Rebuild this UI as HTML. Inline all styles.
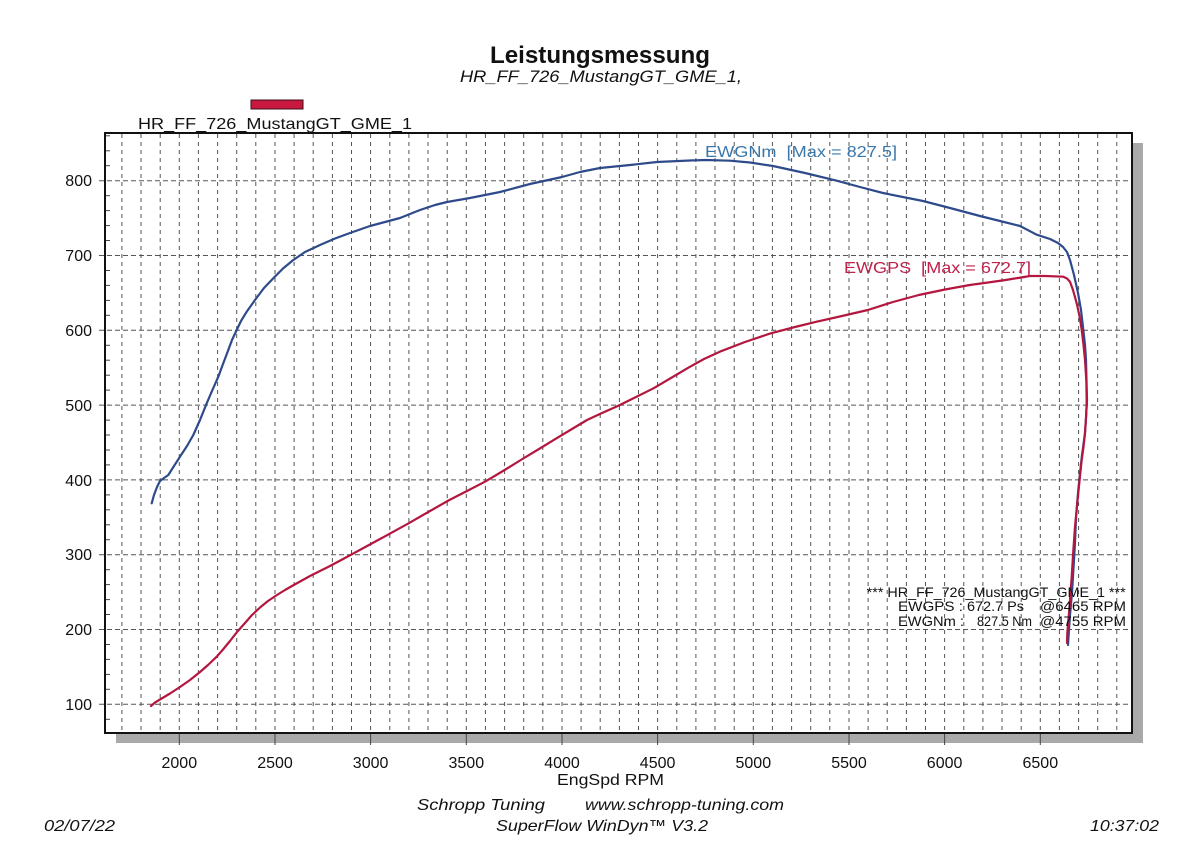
<!DOCTYPE html>
<html>
<head>
<meta charset="utf-8">
<style>
  html, body { margin: 0; padding: 0; background: #ffffff; }
  body { width: 1200px; height: 849px; overflow: hidden; }
  svg { display: block; }
  text { font-family: "Liberation Sans", Arial, sans-serif; fill: #111; white-space: pre; }
</style>
</head>
<body>
<svg width="1200" height="849" viewBox="0 0 1200 849" xmlns="http://www.w3.org/2000/svg">
  <rect x="0" y="0" width="1200" height="849" fill="#ffffff"/>

  <!-- Title -->
  <text x="600" y="63" font-size="24" font-weight="bold" text-anchor="middle" textLength="220" lengthAdjust="spacingAndGlyphs">Leistungsmessung</text>
  <text x="460" y="82" font-size="17" font-style="italic" textLength="282" lengthAdjust="spacingAndGlyphs">HR_FF_726_MustangGT_GME_1,</text>

  <!-- Legend swatch -->
  <rect x="251" y="100" width="52" height="9" fill="#c8183f" stroke="#3a1018" stroke-width="1"/>
  <text x="138" y="129" font-size="16" textLength="274" lengthAdjust="spacingAndGlyphs">HR_FF_726_MustangGT_GME_1</text>

  <!-- Shadow -->
  <rect x="1133" y="143" width="10" height="600" fill="#a9a9a9"/>
  <rect x="116" y="734" width="1027" height="9" fill="#a9a9a9"/>

  <!-- Plot background -->
  <rect x="105" y="133" width="1027" height="600" fill="#ffffff"/>

  <!-- Vertical grid (every 100 rpm) -->
  <g stroke="#555" stroke-width="1" stroke-dasharray="4,4">
    <line x1="121.9" y1="134" x2="121.9" y2="732"/>
    <line x1="141.0" y1="134" x2="141.0" y2="732"/>
    <line x1="160.2" y1="134" x2="160.2" y2="732"/>
    <line x1="179.3" y1="134" x2="179.3" y2="732"/>
    <line x1="198.4" y1="134" x2="198.4" y2="732"/>
    <line x1="217.6" y1="134" x2="217.6" y2="732"/>
    <line x1="236.7" y1="134" x2="236.7" y2="732"/>
    <line x1="255.8" y1="134" x2="255.8" y2="732"/>
    <line x1="275.0" y1="134" x2="275.0" y2="732"/>
    <line x1="294.1" y1="134" x2="294.1" y2="732"/>
    <line x1="313.2" y1="134" x2="313.2" y2="732"/>
    <line x1="332.4" y1="134" x2="332.4" y2="732"/>
    <line x1="351.5" y1="134" x2="351.5" y2="732"/>
    <line x1="370.6" y1="134" x2="370.6" y2="732"/>
    <line x1="389.8" y1="134" x2="389.8" y2="732"/>
    <line x1="408.9" y1="134" x2="408.9" y2="732"/>
    <line x1="428.0" y1="134" x2="428.0" y2="732"/>
    <line x1="447.2" y1="134" x2="447.2" y2="732"/>
    <line x1="466.3" y1="134" x2="466.3" y2="732"/>
    <line x1="485.4" y1="134" x2="485.4" y2="732"/>
    <line x1="504.6" y1="134" x2="504.6" y2="732"/>
    <line x1="523.7" y1="134" x2="523.7" y2="732"/>
    <line x1="542.8" y1="134" x2="542.8" y2="732"/>
    <line x1="562.0" y1="134" x2="562.0" y2="732"/>
    <line x1="581.1" y1="134" x2="581.1" y2="732"/>
    <line x1="600.2" y1="134" x2="600.2" y2="732"/>
    <line x1="619.4" y1="134" x2="619.4" y2="732"/>
    <line x1="638.5" y1="134" x2="638.5" y2="732"/>
    <line x1="657.6" y1="134" x2="657.6" y2="732"/>
    <line x1="676.8" y1="134" x2="676.8" y2="732"/>
    <line x1="695.9" y1="134" x2="695.9" y2="732"/>
    <line x1="715.0" y1="134" x2="715.0" y2="732"/>
    <line x1="734.2" y1="134" x2="734.2" y2="732"/>
    <line x1="753.3" y1="134" x2="753.3" y2="732"/>
    <line x1="772.4" y1="134" x2="772.4" y2="732"/>
    <line x1="791.6" y1="134" x2="791.6" y2="732"/>
    <line x1="810.7" y1="134" x2="810.7" y2="732"/>
    <line x1="829.8" y1="134" x2="829.8" y2="732"/>
    <line x1="849.0" y1="134" x2="849.0" y2="732"/>
    <line x1="868.1" y1="134" x2="868.1" y2="732"/>
    <line x1="887.2" y1="134" x2="887.2" y2="732"/>
    <line x1="906.4" y1="134" x2="906.4" y2="732"/>
    <line x1="925.5" y1="134" x2="925.5" y2="732"/>
    <line x1="944.6" y1="134" x2="944.6" y2="732"/>
    <line x1="963.8" y1="134" x2="963.8" y2="732"/>
    <line x1="982.9" y1="134" x2="982.9" y2="732"/>
    <line x1="1002.0" y1="134" x2="1002.0" y2="732"/>
    <line x1="1021.2" y1="134" x2="1021.2" y2="732"/>
    <line x1="1040.3" y1="134" x2="1040.3" y2="732"/>
    <line x1="1059.4" y1="134" x2="1059.4" y2="732"/>
    <line x1="1078.6" y1="134" x2="1078.6" y2="732"/>
    <line x1="1097.7" y1="134" x2="1097.7" y2="732"/>
    <line x1="1116.8" y1="134" x2="1116.8" y2="732"/>
  </g>

  <!-- Horizontal grid (every 100) -->
  <g stroke="#555" stroke-width="1" stroke-dasharray="5,3">
    <line x1="99" y1="704.3" x2="1131" y2="704.3"/>
    <line x1="99" y1="629.5" x2="1131" y2="629.5"/>
    <line x1="99" y1="554.7" x2="1131" y2="554.7"/>
    <line x1="99" y1="479.9" x2="1131" y2="479.9"/>
    <line x1="99" y1="405.1" x2="1131" y2="405.1"/>
    <line x1="99" y1="330.3" x2="1131" y2="330.3"/>
    <line x1="99" y1="255.5" x2="1131" y2="255.5"/>
    <line x1="99" y1="180.7" x2="1131" y2="180.7"/>
  </g>

  <!-- Minor left ticks (every 20) -->
  <g stroke="#444" stroke-width="1">
    <line x1="105" y1="719.3" x2="110" y2="719.3"/>
    <line x1="105" y1="689.3" x2="110" y2="689.3"/>
    <line x1="105" y1="674.4" x2="110" y2="674.4"/>
    <line x1="105" y1="659.4" x2="110" y2="659.4"/>
    <line x1="105" y1="644.5" x2="110" y2="644.5"/>
    <line x1="105" y1="614.5" x2="110" y2="614.5"/>
    <line x1="105" y1="599.6" x2="110" y2="599.6"/>
    <line x1="105" y1="584.6" x2="110" y2="584.6"/>
    <line x1="105" y1="569.7" x2="110" y2="569.7"/>
    <line x1="105" y1="539.7" x2="110" y2="539.7"/>
    <line x1="105" y1="524.8" x2="110" y2="524.8"/>
    <line x1="105" y1="509.8" x2="110" y2="509.8"/>
    <line x1="105" y1="494.9" x2="110" y2="494.9"/>
    <line x1="105" y1="464.9" x2="110" y2="464.9"/>
    <line x1="105" y1="450.0" x2="110" y2="450.0"/>
    <line x1="105" y1="435.0" x2="110" y2="435.0"/>
    <line x1="105" y1="420.1" x2="110" y2="420.1"/>
    <line x1="105" y1="390.1" x2="110" y2="390.1"/>
    <line x1="105" y1="375.2" x2="110" y2="375.2"/>
    <line x1="105" y1="360.2" x2="110" y2="360.2"/>
    <line x1="105" y1="345.3" x2="110" y2="345.3"/>
    <line x1="105" y1="315.3" x2="110" y2="315.3"/>
    <line x1="105" y1="300.4" x2="110" y2="300.4"/>
    <line x1="105" y1="285.4" x2="110" y2="285.4"/>
    <line x1="105" y1="270.5" x2="110" y2="270.5"/>
    <line x1="105" y1="240.5" x2="110" y2="240.5"/>
    <line x1="105" y1="225.6" x2="110" y2="225.6"/>
    <line x1="105" y1="210.6" x2="110" y2="210.6"/>
    <line x1="105" y1="195.7" x2="110" y2="195.7"/>
    <line x1="105" y1="165.7" x2="110" y2="165.7"/>
    <line x1="105" y1="150.8" x2="110" y2="150.8"/>
    <line x1="105" y1="135.8" x2="110" y2="135.8"/>
  </g>

  <!-- Bottom major ticks -->
  <g stroke="#444" stroke-width="1">
    <line x1="179.3" y1="733" x2="179.3" y2="745"/>
    <line x1="275.0" y1="733" x2="275.0" y2="745"/>
    <line x1="370.6" y1="733" x2="370.6" y2="745"/>
    <line x1="466.3" y1="733" x2="466.3" y2="745"/>
    <line x1="562.0" y1="733" x2="562.0" y2="745"/>
    <line x1="657.6" y1="733" x2="657.6" y2="745"/>
    <line x1="753.3" y1="733" x2="753.3" y2="745"/>
    <line x1="849.0" y1="733" x2="849.0" y2="745"/>
    <line x1="944.6" y1="733" x2="944.6" y2="745"/>
    <line x1="1040.3" y1="733" x2="1040.3" y2="745"/>
  </g>

  <!-- Frame -->
  <rect x="105" y="133" width="1027" height="600" fill="none" stroke="#111" stroke-width="2"/>

  <!-- Y labels -->
  <g font-size="16" text-anchor="end">
    <text x="92" y="710">100</text>
    <text x="92" y="635">200</text>
    <text x="92" y="560">300</text>
    <text x="92" y="486">400</text>
    <text x="92" y="411">500</text>
    <text x="92" y="336">600</text>
    <text x="92" y="261">700</text>
    <text x="92" y="186">800</text>
  </g>

  <!-- X labels -->
  <g font-size="16" text-anchor="middle">
    <text x="179.3" y="768">2000</text>
    <text x="275.0" y="768">2500</text>
    <text x="370.6" y="768">3000</text>
    <text x="466.3" y="768">3500</text>
    <text x="562.0" y="768">4000</text>
    <text x="657.6" y="768">4500</text>
    <text x="753.3" y="768">5000</text>
    <text x="849.0" y="768">5500</text>
    <text x="944.6" y="768">6000</text>
    <text x="1040.3" y="768">6500</text>
  </g>
  <text x="557" y="785" font-size="16" textLength="107" lengthAdjust="spacingAndGlyphs">EngSpd RPM</text>

  <!-- Torque curve (blue) -->
  <polyline fill="none" stroke="#2f4a8a" stroke-width="2.2" stroke-linejoin="round" stroke-linecap="round"
    points="151.7,503.3 154,495 157,487 160,481 164,478 168.3,475 174,466 180,456.7 187,446 193.3,435 200,420 206.7,403.3 212,391 218.3,376.7 223,364 228.3,350 232,340 236.7,330 241,321 246.7,311.7 255,300 264,288 273.3,278.3 283,268.5 293.3,260 305,252 320,245 335,238.5 350,233 370,226 385,222 400,218 420,210 435,205 447,202 470,198 500,192 530,184 562,177 580,172 600,168 630,165 657,162 690,160.5 706,160 730,160.7 750,162.5 773,166 805,173 836.7,180.7 860,187 883,193 923,201 950,208 980,216 1000,221 1020,226 1036.7,234.7 1050,239 1058,243 1063,247 1067,252 1070,260 1074,275 1078,293 1081,310 1083,327 1085,345 1086,360 1087,400 1086,418 1085,433 1082,455 1080,473 1078,493 1076,518 1075,543 1073.5,568 1072,593 1070,615 1068.5,637 1068,645"/>

  <!-- Power curve (red) -->
  <polyline fill="none" stroke="#b3173f" stroke-width="2.2" stroke-linejoin="round" stroke-linecap="round"
    points="151,706 155,702.5 160,699.5 170,693.5 180,687 190,680 200,672 208,665 216.7,656.7 223,649.5 230,641 237,632 245,623 252,615 260.6,607 268,601 277,595 285,590 293.8,585 310,576 330,566 352.4,554 380,539 408.6,523.3 430,511 449.4,500 467,491 485,481.7 503,471 520.8,460 539,449 556.5,438.3 572,429 587,420 602,413 617.8,406 635,397.5 653.5,388.3 671,378 689,367.3 704,359 719.8,351.7 745,342 770.8,333.3 795,327 816.7,321.7 842,316 867.8,310 893,302 918.8,295 945,289.5 969.8,285 988,282.5 1005.5,280 1018,278 1030,276 1045,276 1063.3,276.7 1067,278.5 1070,281.7 1073,290 1076.7,303.3 1079.5,316 1081.7,330 1083.5,345 1085,360 1086.3,380 1086.7,403.3 1086,418 1085,433 1083.5,447 1081.7,460 1080,476 1078.3,493 1076.6,510 1075,526.7 1073.3,551 1071.7,576.7 1070.5,593 1069.3,610 1068.2,622 1067.3,633.3 1067,643"/>

  <!-- Curve labels -->
  <text x="705" y="157" font-size="16" style="fill:#3a78ab" textLength="192" lengthAdjust="spacingAndGlyphs">EWGNm  [Max = 827.5]</text>
  <text x="844" y="273" font-size="16" style="fill:#c0204a" textLength="187" lengthAdjust="spacingAndGlyphs">EWGPS  [Max = 672.7]</text>

  <!-- Stats -->
  <g font-size="14">
    <text x="866.7" y="597" textLength="259" lengthAdjust="spacingAndGlyphs">*** HR_FF_726_MustangGT_GME_1 ***</text>
    <text x="898" y="611" textLength="65" lengthAdjust="spacingAndGlyphs">EWGPS :</text>
    <text x="967" y="611" textLength="57" lengthAdjust="spacingAndGlyphs">672.7 Ps</text>
    <text x="1040" y="611" textLength="86" lengthAdjust="spacingAndGlyphs">@6465 RPM</text>
    <text x="898" y="626" textLength="66" lengthAdjust="spacingAndGlyphs">EWGNm :</text>
    <text x="977" y="626" textLength="55" lengthAdjust="spacingAndGlyphs">827.5 Nm</text>
    <text x="1040" y="626" textLength="86" lengthAdjust="spacingAndGlyphs">@4755 RPM</text>
  </g>

  <!-- Footer -->
  <g font-size="16" font-style="italic">
    <text x="417" y="810" textLength="128" lengthAdjust="spacingAndGlyphs">Schropp Tuning</text>
    <text x="585" y="810" textLength="199" lengthAdjust="spacingAndGlyphs">www.schropp-tuning.com</text>
    <text x="496" y="831" textLength="212" lengthAdjust="spacingAndGlyphs">SuperFlow WinDyn™ V3.2</text>
    <text x="44" y="831" textLength="71" lengthAdjust="spacingAndGlyphs">02/07/22</text>
    <text x="1090" y="831" textLength="69" lengthAdjust="spacingAndGlyphs">10:37:02</text>
  </g>
</svg>
</body>
</html>
